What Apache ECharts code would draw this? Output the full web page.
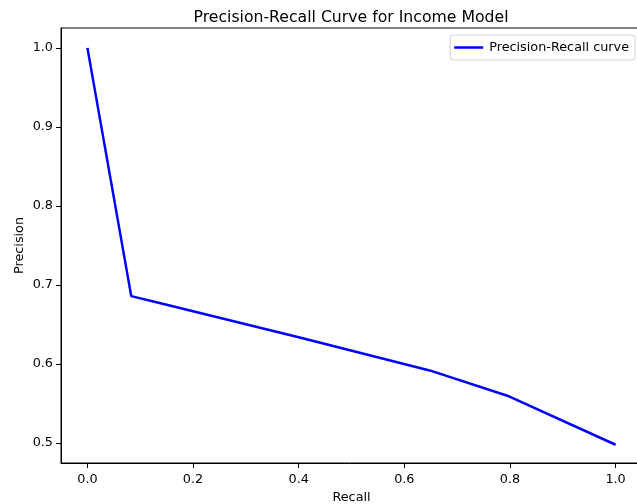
<!DOCTYPE html>
<html>
<head>
<meta charset="utf-8">
<title>Precision-Recall Curve</title>
<script src="https://cdn.jsdelivr.net/npm/echarts@6/dist/echarts.min.js"></script>
<style>
  html, body { margin: 0; padding: 0; background: #fff; }
  #chart { width: 637px; height: 504px; }
</style>
</head>
<body>
<div id="chart"></div>
<script>
// values
const recall = [0.0, 0.083, 0.15, 0.40, 0.648, 0.795, 1.0];
const precision = [1.0, 0.686, 0.675, 0.634, 0.592, 0.560, 0.498];
const xTicks = [0.0, 0.2, 0.4, 0.6, 0.8, 1.0];
const yTicks = [0.5, 0.6, 0.7, 0.8, 0.9, 1.0];

const font = 'DejaVu Sans';

// build [x, y] pairs for the line
const points = recall.map((r, i) => [r, precision[i]]);

const chart = echarts.init(document.getElementById('chart'));

const option = {
  animation: false,
  backgroundColor: '#fff',
  textStyle: { fontFamily: font, color: '#000' },
  title: {
    text: 'Precision-Recall Curve for Income Model',
    left: 346,
    top: 5,
    textAlign: 'center',
    textStyle: { fontFamily: font, fontSize: 15.7, fontWeight: 'normal', color: '#000' }
  },
  legend: {
    data: ['Precision-Recall curve'],
    icon: 'rect',
    right: 2,
    top: 35,
    itemWidth: 29,
    itemHeight: 2.5,
    itemGap: 8,
    padding: [6, 6, 6, 4],
    borderColor: '#d0d0d0',
    borderWidth: 1,
    borderRadius: 3,
    textStyle: { fontFamily: font, fontSize: 12.8, color: '#000', padding: [0, 0, 0, 1] }
  },
  grid: {
    left: 61,
    top: 28,
    width: 581,
    height: 435,
    outerBoundsMode: 'none',
    containLabel: false,
    show: true,
    borderColor: '#000',
    borderWidth: 1,
    backgroundColor: 'transparent'
  },
  xAxis: {
    type: 'value',
    min: -0.05,
    max: 1.05,
    name: 'Recall',
    nameLocation: 'middle',
    nameGap: 28,
    nameTextStyle: { fontFamily: font, fontSize: 12.8, color: '#000' },
    axisLine: { show: true, onZero: false, lineStyle: { color: '#000', width: 1 } },
    axisTick: { show: true, length: 5, customValues: xTicks, lineStyle: { color: '#000' } },
    axisLabel: {
      customValues: xTicks,
      margin: 10,
      fontFamily: font,
      fontSize: 12.8,
      color: '#000',
      formatter: v => v.toFixed(1)
    },
    splitLine: { show: false }
  },
  yAxis: {
    type: 'value',
    min: 0.4749,
    max: 1.0251,
    name: 'Precision',
    nameLocation: 'middle',
    nameGap: 35,
    nameRotate: 90,
    nameMoveOverlap: false,
    nameTextStyle: { fontFamily: font, fontSize: 12.8, color: '#000' },
    axisLine: { show: true, onZero: false, lineStyle: { color: '#000', width: 1 } },
    axisTick: { show: true, length: 5, customValues: yTicks, lineStyle: { color: '#000' } },
    axisLabel: {
      customValues: yTicks,
      margin: 8,
      fontFamily: font,
      fontSize: 12.8,
      color: '#000',
      formatter: v => v.toFixed(1)
    },
    splitLine: { show: false }
  },
  series: [
    {
      name: 'Precision-Recall curve',
      type: 'line',
      data: points,
      symbol: 'none',
      lineStyle: { color: '#0000ff', width: 2.5 },
      itemStyle: { color: '#0000ff' }
    }
  ]
};

chart.setOption(option);
</script>
</body>
</html>
